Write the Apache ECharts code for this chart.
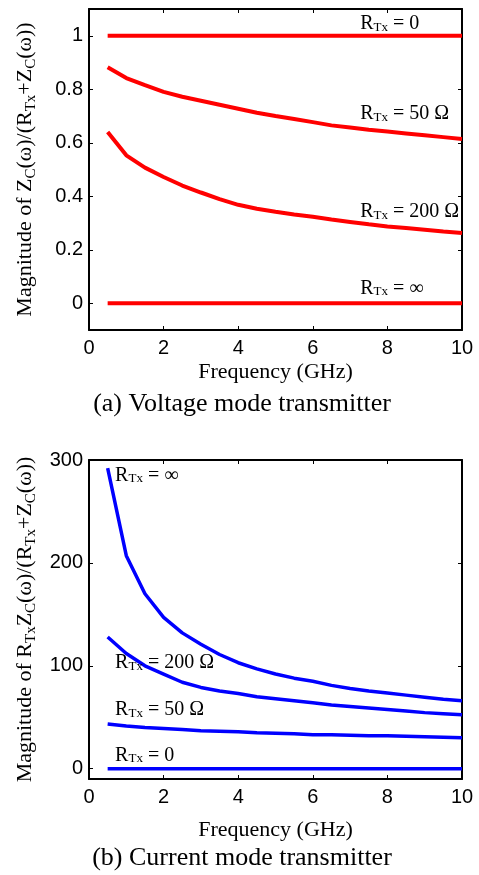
<!DOCTYPE html>
<html><head><meta charset="utf-8">
<script src="https://cdn.jsdelivr.net/npm/echarts@6/dist/echarts.min.js"></script>
<style>html,body{margin:0;padding:0;background:#fff}#c{width:479px;height:875px}</style>
</head><body><div id="c"></div>
<script>
// ---- data ----
const freq = [0.5,1,1.5,2,2.5,3,3.5,4,4.5,5,5.5,6,6.5,7,7.5,8,8.5,9,9.5,10];
// (a) voltage mode: |Zc/(Rtx+Zc)|
const vR0   = [1,1,1,1,1,1,1,1,1,1,1,1,1,1,1,1,1,1,1,1];
const vR50  = [0.882,0.842,0.815,0.790,0.772,0.757,0.742,0.727,0.712,0.700,0.689,0.677,0.665,0.657,0.649,0.642,0.635,0.628,0.621,0.614];
const vR200 = [0.640,0.553,0.507,0.472,0.440,0.414,0.389,0.368,0.353,0.342,0.332,0.323,0.313,0.304,0.295,0.287,0.281,0.275,0.268,0.263];
const vRinf = [0,0,0,0,0,0,0,0,0,0,0,0,0,0,0,0,0,0,0,0];
// (b) current mode: |Rtx*Zc/(Rtx+Zc)|
const cRinf = [292,207,170,147,132,121,111,103,97,92,88,85,81,78,75.5,73.5,71.5,69.5,67.5,66];
const cR200 = [128,112,100,92,84,79,75.5,73,70,68,66,64,62,60.5,59,57.5,56,54.5,53.5,52.5];
const cR50  = [43.5,41.5,40,39,38,37,36.5,36,35,34.5,34,33,33,32.5,32,32,31.5,31,30.5,30];
const cR0   = [0,0,0,0,0,0,0,0,0,0,0,0,0,0,0,0,0,0,0,0];
// ticks
const xTicks  = [0,2,4,6,8,10];
const yTicksA = [0,0.2,0.4,0.6,0.8,1];
const yTicksB = [0,100,200,300];
// curve labels
const labelsA = [
  {t:'{r|R}{s|Tx}{r| = 0}',    x:7.27, y:1.045},
  {t:'{r|R}{s|Tx}{r| = 50 Ω}', x:7.27, y:0.709},
  {t:'{r|R}{s|Tx}{r| = 200 Ω}',x:7.27, y:0.341},
  {t:'{r|R}{s|Tx}{r| = ∞}',    x:7.27, y:0.056}
];
const labelsB = [
  {t:'{r|R}{s|Tx}{r| = ∞}',    x:0.70, y:285},
  {t:'{r|R}{s|Tx}{r| = 200 Ω}',x:0.70, y:103},
  {t:'{r|R}{s|Tx}{r| = 50 Ω}', x:0.70, y:57},
  {t:'{r|R}{s|Tx}{r| = 0}',    x:0.70, y:13}
];

const SERIF = 'Liberation Serif';
const SANS = 'Liberation Sans';
const nameRich = {
  n:{fontFamily:SERIF,fontSize:22,color:'#000'},
  s:{fontFamily:SERIF,fontSize:15,color:'#000',verticalAlign:'bottom',padding:[12,0,0,0]}
};
const tagRich = {
  r:{fontFamily:SERIF,fontSize:20,color:'#000'},
  s:{fontFamily:SERIF,fontSize:13,color:'#000',verticalAlign:'bottom',padding:[4,0,0,0]}
};

function xAx(grid, pos, show, gap) {
  return {
    type:'value', gridIndex:grid, position:pos, min:0, max:10, interval:2,
    axisLine:{onZero:false,lineStyle:{color:'#000',width:2}},
    axisTick:{inside:true,length:4,lineStyle:{color:'#000',width:1}},
    axisLabel:{show:show,fontFamily:SANS,fontSize:20,color:'#000',margin:8},
    splitLine:{show:false},
    name: show ? 'Frequency (GHz)' : '',
    nameLocation:'middle', nameGap:gap || 32,
    nameTextStyle:{fontFamily:SERIF,fontSize:22,color:'#000'}
  };
}
function yAx(grid, pos, show, min, max, ticks, name) {
  return {
    type:'value', gridIndex:grid, position:pos, min:min, max:max,
    axisLine:{onZero:false,lineStyle:{color:'#000',width:2}},
    axisTick:{inside:true,length:4,customValues:ticks,lineStyle:{color:'#000',width:1}},
    axisLabel:{show:show,customValues:ticks,fontFamily:SANS,fontSize:20,color:'#000',margin:6},
    splitLine:{show:false},
    name: show ? name : '',
    nameLocation:'middle', nameGap:50, nameRotate:90,
    nameTextStyle:{rich:nameRich}
  };
}
function line(xi, yi, ys, color, w) {
  return {
    type:'line', xAxisIndex:xi, yAxisIndex:yi, showSymbol:false, symbol:'none',
    data: freq.map((f,i)=>[f, ys[i]]),
    lineStyle:{color:color,width:w}, itemStyle:{color:color},
    animation:false, silent:true
  };
}

const chart = echarts.init(document.getElementById('c'), null, {renderer:'canvas'});
const option = {
  backgroundColor:'#fff',
  animation:false,
  grid:[
    {left:89, top:9, width:373, height:321},
    {left:89, top:460, width:373, height:319}
  ],
  xAxis:[ xAx(0,'bottom',true,31), xAx(0,'top',false), xAx(1,'bottom',true,40), xAx(1,'top',false) ],
  yAxis:[
    yAx(0,'left',true,-0.1,1.1,yTicksA,'{n|Magnitude of Z}{s|C}{n|(ω)/(R}{s|Tx}{n|+Z}{s|C}{n|(ω))}'),
    yAx(0,'right',false,-0.1,1.1,yTicksA,''),
    yAx(1,'left',true,-10,300,yTicksB,'{n|Magnitude of R}{s|Tx}{n|Z}{s|C}{n|(ω)/(R}{s|Tx}{n|+Z}{s|C}{n|(ω))}'),
    yAx(1,'right',false,-10,300,yTicksB,'')
  ],
  series:[
    line(0,0,vR0,'#ff0000',4),
    line(0,0,vR50,'#ff0000',4),
    line(0,0,vR200,'#ff0000',4),
    line(0,0,vRinf,'#ff0000',4),
    line(2,2,cRinf,'#0000ff',3.5),
    line(2,2,cR200,'#0000ff',3.5),
    line(2,2,cR50,'#0000ff',3.5),
    line(2,2,cR0,'#0000ff',3.5)
  ]
};
chart.setOption(option);

const g = [];
labelsA.forEach(l=>{
  const p = chart.convertToPixel({xAxisIndex:0,yAxisIndex:0},[l.x,l.y]);
  g.push({type:'text',x:p[0],y:p[1],z:10,style:{text:l.t,rich:tagRich,textAlign:'left',textVerticalAlign:'middle'}});
});
labelsB.forEach(l=>{
  const p = chart.convertToPixel({xAxisIndex:2,yAxisIndex:2},[l.x,l.y]);
  g.push({type:'text',x:p[0],y:p[1],z:10,style:{text:l.t,rich:tagRich,textAlign:'left',textVerticalAlign:'middle'}});
});
g.push({type:'text',x:242,y:404,style:{text:'(a) Voltage mode transmitter',fontFamily:SERIF,fontSize:26,fill:'#000',textAlign:'center',textVerticalAlign:'middle'}});
g.push({type:'text',x:242,y:858,style:{text:'(b) Current mode transmitter',fontFamily:SERIF,fontSize:26,fill:'#000',textAlign:'center',textVerticalAlign:'middle'}});
chart.setOption({graphic:g});
</script>
</body></html>
